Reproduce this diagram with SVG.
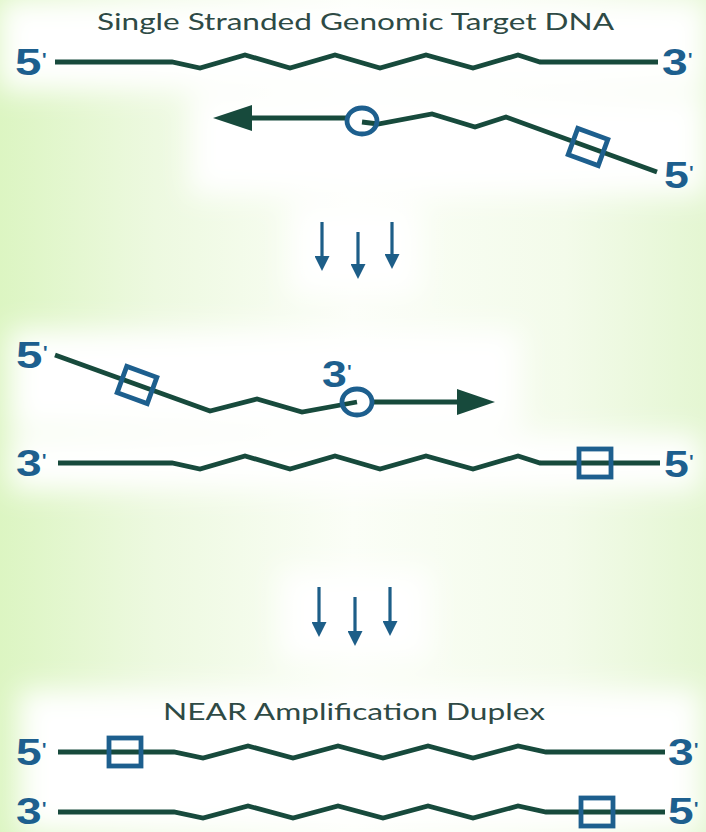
<svg xmlns="http://www.w3.org/2000/svg" width="706" height="832" viewBox="0 0 706 832">
<defs>
  <linearGradient id="bg" x1="0" y1="0" x2="1" y2="0">
    <stop offset="0" stop-color="#dcf5c2"/>
    <stop offset="0.22" stop-color="#edf9e0"/>
    <stop offset="0.5" stop-color="#fbfef7"/>
    <stop offset="0.8" stop-color="#f3fbea"/>
    <stop offset="1" stop-color="#e4f6d2"/>
  </linearGradient>
  <filter id="glow" x="-30%" y="-60%" width="160%" height="220%">
    <feGaussianBlur stdDeviation="14"/>
  </filter>
  <marker id="dhead" viewBox="0 0 15 15" refX="4" refY="7.5" markerWidth="15" markerHeight="15" markerUnits="userSpaceOnUse" orient="auto">
    <path d="M0,0 L15,7.5 L0,15 z" fill="#1d5e88"/>
  </marker>
  <style>
    .strand{fill:none;stroke:#174a3c;stroke-width:4.8;stroke-linejoin:miter;stroke-linecap:butt}
    .mark{fill:none;stroke:#1d5f8e;stroke-width:4.8}
    .head{fill:#174a3c}
    .lbl{font-family:"Liberation Sans",Arial,sans-serif;font-weight:bold;font-size:36px;fill:#1d5f8e}
    .pr{font-size:22px;font-weight:normal}
    .title{font-family:Lato,"Open Sans",sans-serif;font-size:24px;fill:#2e4a45}
    .down{stroke:#1d5e88;stroke-width:3.2;fill:none}
  </style>
</defs>

<rect x="0" y="0" width="706" height="832" fill="url(#bg)"/>
<g filter="url(#glow)" fill="#ffffff">
  <rect x="0" y="0" width="706" height="90"/>
  <rect x="190" y="95" width="516" height="100"/>
  <rect x="290" y="205" width="130" height="90"/>
  <rect x="10" y="330" width="510" height="100"/>
  <rect x="10" y="435" width="690" height="55"/>
  <rect x="280" y="570" width="150" height="90"/>
  <rect x="20" y="690" width="680" height="142"/>
</g>

<g id="title-top"><text class="title" x="97" y="30" textLength="517" lengthAdjust="spacingAndGlyphs">Single Stranded Genomic Target DNA</text></g>

<g id="genomic-strand">
  <path class="strand" d="M55,62 H172 L200,68 L245,55 L290,68 L335,55 L380,68 L426,55 L473,68 L518,55 L540,62 H658"/>
  <text class="lbl" x="15" y="75" textLength="32" lengthAdjust="spacingAndGlyphs">5<tspan class="pr" dy="-7">'</tspan></text>
  <text class="lbl" x="662" y="75" textLength="31" lengthAdjust="spacingAndGlyphs">3<tspan class="pr" dy="-7">'</tspan></text>
</g>

<g id="primer-1">
  <path class="strand" d="M250,118 H347"/>
  <polygon class="head" points="213,118 252,105 252,131"/>
  <path class="strand" d="M362,122 L378,124 L432,114 L475,127 L506,117 L657,172"/>
  <ellipse class="mark" cx="362" cy="121" rx="15" ry="13"/>
  <rect class="mark" x="572" y="133" width="32" height="28" transform="rotate(20 588 147)"/>
  <text class="lbl" x="664" y="188" textLength="30" lengthAdjust="spacingAndGlyphs">5<tspan class="pr" dy="-7">'</tspan></text>
</g>

<g id="extended-strand">
  <path class="strand" d="M55,355 L210,411 L257,399 L302,412 L357,402"/>
  <path class="strand" d="M372,402 H460"/>
  <polygon class="head" points="495,402 457,389 457,415"/>
  <ellipse class="mark" cx="357" cy="402" rx="15" ry="13"/>
  <rect class="mark" x="121" y="371" width="32" height="28" transform="rotate(20 137 385)"/>
  <text class="lbl" x="16" y="368" textLength="32" lengthAdjust="spacingAndGlyphs">5<tspan class="pr" dy="-7">'</tspan></text>
  <text class="lbl" x="322" y="387" textLength="30" lengthAdjust="spacingAndGlyphs">3<tspan class="pr" dy="-7">'</tspan></text>
</g>

<g id="template-strand">
  <path class="strand" d="M58,463 H172 L200,469 L245,456 L290,469 L335,456 L380,469 L426,456 L473,469 L518,456 L540,463 H660"/>
  <rect class="mark" x="579" y="449" width="32" height="28"/>
  <text class="lbl" x="16" y="476" textLength="31" lengthAdjust="spacingAndGlyphs">3<tspan class="pr" dy="-7">'</tspan></text>
  <text class="lbl" x="664" y="477" textLength="30" lengthAdjust="spacingAndGlyphs">5<tspan class="pr" dy="-7">'</tspan></text>
</g>

<g id="title-bottom"><text class="title" x="163" y="720" textLength="382" lengthAdjust="spacingAndGlyphs">NEAR Amplification Duplex</text></g>

<g id="duplex-top">
  <path class="strand" d="M58,752 H174 L203,758 L248,746 L293,758 L338,746 L383,758 L428,746 L473,758 L518,746 L546,752 H665"/>
  <rect class="mark" x="109" y="738" width="32" height="28"/>
  <text class="lbl" x="16" y="765" textLength="31" lengthAdjust="spacingAndGlyphs">5<tspan class="pr" dy="-7">'</tspan></text>
  <text class="lbl" x="668" y="765" textLength="31" lengthAdjust="spacingAndGlyphs">3<tspan class="pr" dy="-7">'</tspan></text>
</g>

<g id="duplex-bottom">
  <path class="strand" d="M58,812 H174 L203,818 L248,806 L293,818 L338,806 L383,818 L428,806 L473,818 L518,806 L546,812 H665"/>
  <rect class="mark" x="581" y="798" width="32" height="28"/>
  <text class="lbl" x="16" y="824" textLength="31" lengthAdjust="spacingAndGlyphs">3<tspan class="pr" dy="-7">'</tspan></text>
  <text class="lbl" x="668" y="824" textLength="31" lengthAdjust="spacingAndGlyphs">5<tspan class="pr" dy="-7">'</tspan></text>
</g>

<g id="connectors">
  <line class="down" x1="322" y1="222" x2="322" y2="260" marker-end="url(#dhead)"/>
  <line class="down" x1="358" y1="232" x2="358" y2="268" marker-end="url(#dhead)"/>
  <line class="down" x1="392" y1="222" x2="392" y2="258" marker-end="url(#dhead)"/>
  <line class="down" x1="319" y1="587" x2="319" y2="626" marker-end="url(#dhead)"/>
  <line class="down" x1="355" y1="597" x2="355" y2="635" marker-end="url(#dhead)"/>
  <line class="down" x1="390" y1="587" x2="390" y2="625" marker-end="url(#dhead)"/>
</g>
</svg>
